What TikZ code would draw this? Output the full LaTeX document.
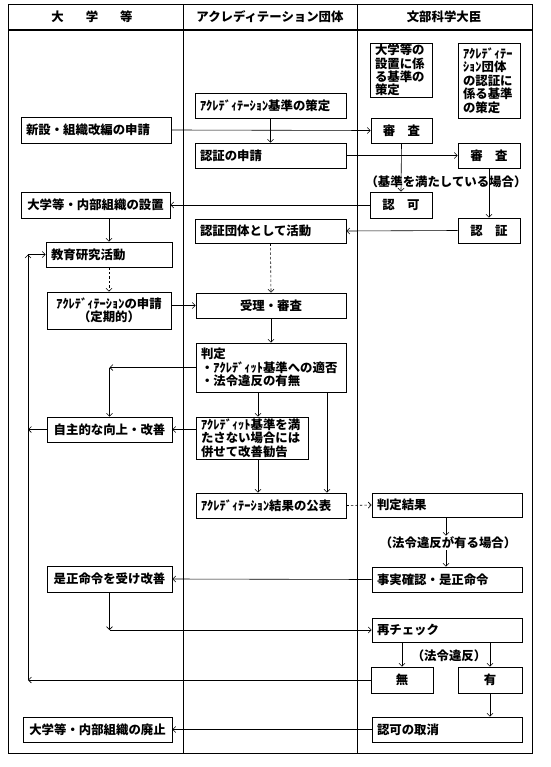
\documentclass[tikz,border=0pt]{standalone}
\usepackage{fontspec}
\setmainfont{Noto Sans CJK JP}
\usetikzlibrary{arrows.meta}

\begin{document}
\begin{tikzpicture}[x=1pt, y=-1pt,
      box/.style={draw, line width=0.7pt, inner xsep=5pt, inner ysep=1pt,
         font=\fontsize{12.4}{13.4}\selectfont\bfseries},
      lbox/.style={box, align=left},
      cbox/.style={box, align=center},
      txt/.style={inner sep=1pt, font=\fontsize{12.4}{13.4}\selectfont\bfseries},
      hdr/.style={inner sep=0pt, font=\fontsize{12.4}{13.4}\selectfont\bfseries},
      arr/.style={line width=0.6pt, -{Straight Barb[length=3pt,width=6pt]}},
      dsh/.style={arr, dash pattern=on 2.5pt off 2pt}]
      \useasboundingbox (0,0) rectangle (550,767);
      % Frame and columns
      \draw[line width=1pt] (8,5) rectangle (532,753);
      \draw[line width=1.2pt] (8,30) -- (532,30);
      \draw[line width=0.8pt] (183,5) -- (183,753);
      \draw[line width=0.8pt] (357,5) -- (357,753);
      % Column headers
      \node[hdr] (h1) at (92,17) {大\hspace{22pt}学\hspace{22pt}等};
      \node[hdr] (h2) at (270,17) {アクレディテーション団体};
      \node[hdr] (h3) at (444,17) {文部科学大臣};
      % University column
      \node[lbox, text width=140pt, minimum height=26pt] (shinsei) at (96,130) {新設・組織改編の申請};
      \node[cbox, minimum width=149pt, minimum height=26pt] (setchi) at (95.5,205) {大学等・内部組織の設置};
      \node[lbox, text width=116pt, minimum height=25pt] (kyoiku) at (109,254.5) {教育研究活動};
      \node[cbox, minimum width=124pt, minimum height=37pt] (acshinsei) at (109,310.5) {ｱｸﾚﾃﾞｨﾃｰｼｮﾝの申請\\（定期的）};
      \node[cbox, minimum width=125pt, minimum height=25pt] (kojo) at (109.5,429.5) {自主的な向上・改善};
      \node[cbox, minimum width=125pt, minimum height=26pt] (zesei) at (109.5,579) {是正命令を受け改善};
      \node[cbox, minimum width=149pt, minimum height=25pt] (haishi) at (97.5,729.5) {大学等・内部組織の廃止};
      % Accreditation agency column
      \node[lbox, text width=141pt, minimum height=25pt] (kijun) at (270.5,105.5) {ｱｸﾚﾃﾞｨﾃｰｼｮﾝ基準の策定};
      \node[lbox, text width=141pt, minimum height=25pt] (ninsho) at (270.5,155.5) {認証の申請};
      \node[lbox, text width=141pt, minimum height=24pt] (katsudo) at (270.5,231) {認証団体として活動};
      \node[cbox, minimum width=150pt, minimum height=25pt] (juri) at (271,305.5) {受理・審査};
      \node[lbox, text width=140pt, minimum height=49pt] (hantei) at (271,367.5) {判定\\ ・ｱｸﾚﾃﾞｨｯﾄ基準への適否\\ ・法令違反の有無};
      \node[lbox, text width=102pt, minimum height=42pt] (kankoku) at (252,438) {ｱｸﾚﾃﾞｨｯﾄ基準を満\\たさない場合には\\併せて改善勧告};
      \node[lbox, text width=140pt, minimum height=25pt] (kohyo) at (271,505.5) {ｱｸﾚﾃﾞｨﾃｰｼｮﾝ結果の公表};
      % Minister column
      \node[lbox, text width=52pt, minimum height=54pt] (setkijun) at (401,70) {大学等の\\設置に係\\る基準の\\策定};
      \node[lbox, text width=52pt, minimum height=75pt] (ninkijun) at (489,80.5) {ｱｸﾚﾃﾞｨﾃｰ\\ｼｮﾝ団体\\の認証に\\係る基準\\の策定};
      \node[cbox, minimum width=61pt, minimum height=25pt] (shinsa1) at (401.5,130.5) {審　査};
      \node[cbox, minimum width=62pt, minimum height=25pt] (shinsa2) at (489,155.5) {審　査};
      \node[txt] (mitasu) at (446,182) {（基準を満たしている場合）};
      \node[cbox, minimum width=62pt, minimum height=26pt] (ninka) at (401,205) {認　可};
      \node[cbox, minimum width=62pt, minimum height=25pt] (nintei) at (489,230.5) {認　証};
      \node[lbox, text width=140pt, minimum height=24pt] (kekka) at (447,505) {判定結果};
      \node[txt] (ihanari) at (448,543) {（法令違反が有る場合）};
      \node[lbox, text width=140pt, minimum height=25pt] (jijitsu) at (447,579.5) {事実確認・是正命令};
      \node[lbox, text width=140pt, minimum height=24pt] (recheck) at (447,630) {再チェック};
      \node[txt] (ihan) at (449,656) {（法令違反）};
      \node[cbox, minimum width=62pt, minimum height=26pt] (mu) at (402,680) {無};
      \node[cbox, minimum width=64pt, minimum height=26pt] (yu) at (490,680) {有};
      \node[lbox, text width=140pt, minimum height=25pt] (torikeshi) at (447,729.5) {認可の取消};
      % Establishment and certification
      \draw[arr] (shinsei.east) -- (shinsa1.west);
      \draw[arr] (kijun.south) -- (ninsho.north);
      \draw[arr] (ninsho.east) -- (shinsa2.west);
      \draw[arr] (shinsa1.south) -- (ninka.north);
      \draw[arr] (shinsa2.south) -- (nintei.north);
      \draw[arr] (ninka.west) -- (setchi.east);
      \draw[arr] (nintei.west) -- (katsudo.east);
      \draw[arr] (setchi.south -| kyoiku.north) -- (kyoiku.north);
      % Periodic accreditation
      \draw[dsh] (kyoiku.south) -- (acshinsei.north);
      \draw[dsh] (katsudo.south) -- (juri.north);
      \draw[arr] (acshinsei.east |- juri.west) -- (juri.west);
      \draw[arr] (juri.south) -- (hantei.north);
      \coordinate (hcorner) at (kojo.north |- hantei.west);
      \draw[arr] (hantei.west) -- (hcorner);
      \draw[arr] (hcorner) -- (kojo.north);
      \coordinate (hk) at ([xshift=6pt]kankoku.north);
      \draw[arr] (hk |- hantei.south) -- (hk);
      \coordinate (hp) at (327,0);
      \draw[arr] (hp |- hantei.south) -- (hp |- kohyo.north);
      \draw[arr] (hk |- kankoku.south) -- (hk |- kohyo.north);
      \draw[arr] (kankoku.west |- kojo.east) -- (kojo.east);
      % Return loop to teaching and research
      \coordinate (loop) at (28,0);
      \draw[arr] (kojo.west) -- (loop |- kojo.west);
      \draw[arr] (mu.west) -- (loop |- mu.west);
      \draw[arr] (loop |- mu.west) -- (loop |- kyoiku.west);
      \draw[arr] (loop |- kyoiku.west) -- (kyoiku.west);
      % Result and corrective order
      \draw[dsh] (kohyo.east) -- (kekka.west);
      \draw[arr] ([xshift=-1pt]kekka.south) -- ([xshift=-2pt]ihanari.north);
      \draw[arr] ([xshift=-2pt]ihanari.south) -- ([xshift=-1pt]jijitsu.north);
      \draw[arr] (jijitsu.west) -- (zesei.east);
      \coordinate (zcorner) at (zesei.south |- recheck.west);
      \draw[arr] (zesei.south) -- (zcorner);
      \draw[arr] (zcorner) -- (recheck.west);
      \draw[arr] (mu.north |- recheck.south) -- (mu.north);
      \draw[arr] (yu.north |- recheck.south) -- (yu.north);
      \draw[arr] (yu.south) -- (yu.south |- torikeshi.north);
      \draw[arr] (torikeshi.west) -- (haishi.east);
   \end{tikzpicture}
\end{document}
